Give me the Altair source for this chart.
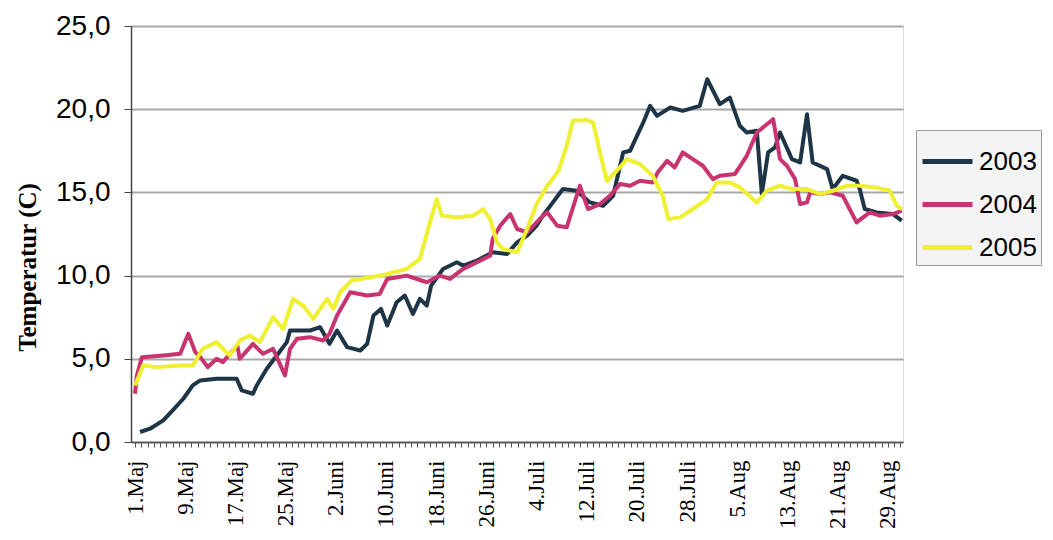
import altair as alt
import pandas as pd

tick_labels = ["1.Maj", "9.Maj", "17.Maj", "25.Maj", "2.Juni", "10.Juni", "18.Juni",
               "26.Juni", "4.Juli", "12.Juli", "20.Juli", "28.Juli", "5.Aug", "13.Aug",
               "21.Aug", "29.Aug"]
series = ["2003", "2004", "2005"]
colors = ["#1d3546", "#c8346f", "#f0f032"]

# day index (0 = 1 May) and temperature
days_2003 = [0.8, 2.4, 4.5, 6, 7.7, 9.2, 10.4, 13, 16.2, 17, 18.8, 19.4, 21, 22.6, 24.2, 24.7,
             27.9, 29.5, 31, 32.2, 33.8, 35.9, 37, 38, 39.2, 40.2, 41.7, 43, 44.3, 45.4, 46.5,
             47.2, 49.1, 51.3, 52.3, 54.5, 57, 59.3, 60.9, 62.5, 64, 65, 66.6, 68.2, 70.4,
             72.5, 74.6, 76.2, 77.8, 78.9, 80, 81, 82.1, 83.2, 85.3, 87.3, 90, 91.2, 93.2,
             94.8, 96.4, 97.5, 99.1, 99.9, 100.9, 102, 102.8, 104.7, 106, 107.1, 108, 110.3,
             111.2, 112.8, 115, 115.5, 116.3, 118.2, 120.8, 122.2]
temp_2003 = [0.6, 0.8, 1.3, 1.9, 2.6, 3.4, 3.7, 3.8, 3.8, 3.1, 2.9, 3.4, 4.4, 5.2, 6.0, 6.7,
             6.7, 6.9, 5.9, 6.7, 5.7, 5.5, 5.9, 7.6, 8.0, 7.0, 8.4, 8.8, 7.7, 8.6, 8.2,
             9.4, 10.4, 10.8, 10.6, 10.9, 11.4, 11.3, 12.0, 12.4, 13.0, 13.6, 14.4, 15.2, 15.1,
             14.4, 14.2, 14.8, 17.4, 17.5, 18.4, 19.2, 20.2, 19.6, 20.1, 19.9, 20.2, 21.8, 20.3,
             20.7, 19.0, 18.6, 18.7, 14.9, 17.4, 17.7, 18.6, 17.0, 16.8, 19.7, 16.8, 16.4,
             15.2, 16.0, 15.7, 15.2, 14.0, 13.8, 13.7, 13.3]

days_2004 = [0, 0.3, 1.1, 4.5, 7.2, 8.5, 9.6, 10.4, 11.6, 13, 14, 16.3, 16.7, 18.8, 20.4, 22,
             23.9, 24.7, 25.8, 27.9, 30, 31, 32.2, 34.3, 37, 39, 40.2, 43.3, 46.5, 48.6, 50.2,
             52.3, 54.5, 56.6, 57, 58.2, 59.8, 60.9, 62.5, 64.5, 65.7, 67.3, 68.8, 70.9, 72.2,
             74.1, 75.7, 77.3, 78.9, 80.5, 82.5, 83.3, 84.8, 86, 87.3, 88.9, 90.5, 92.1, 93.2,
             95.6, 97.5, 99.1, 101.7, 102.8, 103.9, 105.2, 106, 107.1, 107.6, 109.2, 110.8,
             112.8, 115, 117.1, 118.7, 120.8, 122.2]
temp_2004 = [2.9, 4.0, 5.1, 5.2, 5.3, 6.5, 5.4, 5.1, 4.5, 5.0, 4.8, 5.8, 5.0, 5.9, 5.3, 5.6,
             4.0, 5.6, 6.2, 6.3, 6.1, 6.5, 7.6, 9.0, 8.8, 8.9, 9.8, 10.0, 9.6, 10.0, 9.8,
             10.4, 10.8, 11.2, 12.2, 13.0, 13.7, 12.8, 12.6, 13.4, 13.8, 13.0, 12.9, 15.4, 14.0,
             14.3, 14.8, 15.5, 15.4, 15.7, 15.6, 16.2, 16.9, 16.5, 17.4, 17.0, 16.6, 15.8, 16.0,
             16.1, 17.2, 18.6, 19.4, 17.0, 16.6, 15.8, 14.3, 14.4, 15.0, 14.9, 15.0,
             14.8, 13.2, 13.8, 13.6, 13.7, 13.9]

days_2005 = [0, 1.3, 3.5, 7.2, 9.2, 10.8, 13, 15.1, 16.7, 18.3, 19.9, 22, 23.6, 25.2, 26.8,
             28.4, 30.6, 31.6, 32.7, 34.5, 37.6, 40.2, 43.3, 45.4, 47, 48.1, 48.9, 51.3, 53.9,
             55.5, 56.6, 57.7, 58.6, 60.9, 62.5, 64, 65.7, 67.5, 68.8, 69.8, 72, 73, 74.1, 75.2,
             76.8, 78.4, 80.5, 82.5, 84.1, 85, 86.9, 88.9, 91.2, 92.7, 94.8, 96.4, 99.1, 100.7,
             102.8, 104.9, 107.1, 109.2, 111.2, 113.5, 115.5, 118.2, 120.3, 121.4, 122.2]
temp_2005 = [3.4, 4.6, 4.5, 4.6, 4.6, 5.6, 6.0, 5.2, 6.1, 6.4, 6.0, 7.5, 6.8, 8.6, 8.2,
             7.4, 8.6, 8.0, 9.0, 9.7, 9.9, 10.1, 10.4, 11.0, 13.2, 14.6, 13.6, 13.5, 13.6,
             14.0, 13.4, 12.0, 11.6, 11.4, 12.8, 14.3, 15.4, 16.3, 17.8, 19.3, 19.35, 19.2, 17.4,
             15.7, 16.3, 17.0, 16.7, 16.0, 14.8, 13.4, 13.5, 14.0, 14.6, 15.6, 15.6, 15.3, 14.4,
             15.1, 15.4, 15.2, 15.2, 14.9, 15.1, 15.4, 15.4, 15.3, 15.1, 14.2, 14.0]

rows = []
for name, ds, ts in [("2003", days_2003, temp_2003), ("2004", days_2004, temp_2004),
                     ("2005", days_2005, temp_2005)]:
    for i, (d, t) in enumerate(zip(ds, ts)):
        rows.append({"day": d, "temp": t, "year": name, "idx": i})
df = pd.DataFrame(rows)

labels_js = "[" + ",".join("'" + s + "'" for s in tick_labels) + "]"

chart = alt.Chart(df).mark_line(strokeWidth=4, strokeJoin="round").encode(
    x=alt.X("day:Q",
            scale=alt.Scale(domain=[-0.64, 122.4], nice=False, zero=False),
            axis=alt.Axis(values=list(range(0, 123)),
                          labelExpr="datum.value % 8 == 0 ? " + labels_js + "[datum.value / 8] : ''",
                          labelAngle=270, labelFont="Liberation Serif", labelFontSize=23,
                          labelColor="black", labelPadding=13, labelOverlap=False,
                          labelFlush=False, grid=False, title=None, tickSize=5,
                          tickColor="#555555", domainColor="#555555", domainWidth=1.5)),
    y=alt.Y("temp:Q",
            scale=alt.Scale(domain=[0, 25], nice=False),
            axis=alt.Axis(values=[0, 5, 10, 15, 20, 25],
                          labelExpr="replace(format(datum.value, '.1f'), '.', ',')",
                          labelFont="Liberation Sans", labelFontSize=28, labelColor="black",
                          labelPadding=14, tickSize=7, tickColor="#444444",
                          domainColor="#444444", domainWidth=1.5,
                          grid=True, gridColor="#a8a8a8", gridWidth=2,
                          title="Temperatur (C)", titleFont="Liberation Serif",
                          titleFontWeight="bold", titleFontSize=25, titleColor="black",
                          titleX=-91, titleY=241)),
    color=alt.Color("year:N", scale=alt.Scale(domain=series, range=colors),
                    legend=alt.Legend(title=None, orient="none", legendX=785, legendY=104,
                                      symbolType="stroke", symbolSize=2500,
                                      symbolStrokeWidth=5, labelFont="Liberation Sans",
                                      labelFontSize=26, labelColor="black",
                                      strokeColor="#999999", fillColor="#f4f4f4",
                                      padding=4, rowPadding=2, labelOffset=4)),
    order="idx:Q",
).properties(
    width=772, height=416,
    autosize=alt.AutoSizeParams(type="none"),
    padding={"left": 123, "top": 18, "right": 142, "bottom": 93},
).configure_view(
    fill="#e0e0e2", stroke="#9a9a9a", strokeWidth=1.5
).configure(background="white")

chart.save("out.html", embed_options={"renderer": "svg", "actions": False})
